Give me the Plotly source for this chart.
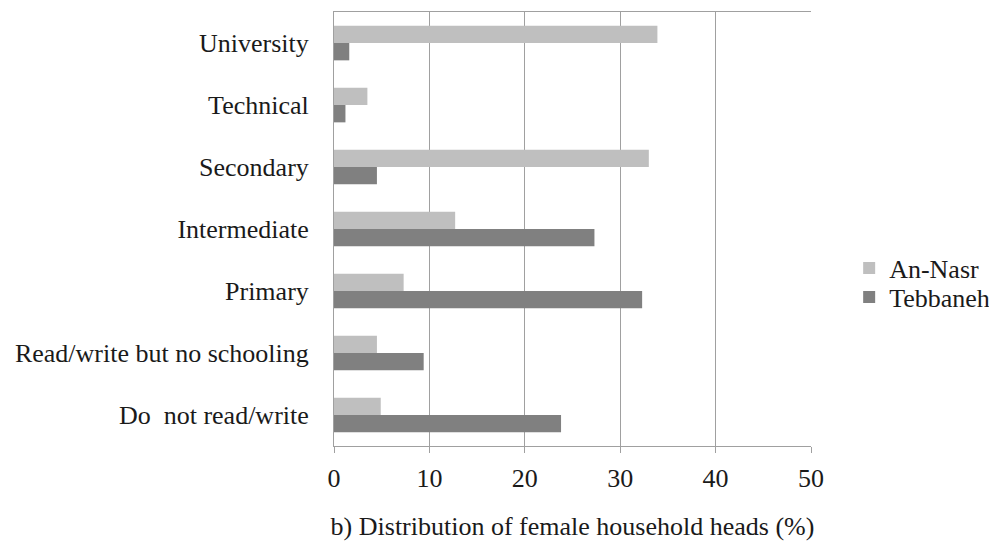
import plotly.graph_objects as go

categories = ["University", "Technical", "Secondary", "Intermediate", "Primary",
              "Read/write but no schooling", "Do\u00a0 not read/write"]
an_nasr = [33.9, 3.5, 33.0, 12.7, 7.3, 4.5, 4.9]
tebbaneh = [1.6, 1.2, 4.5, 27.3, 32.3, 9.4, 23.8]
x_ticks = [0, 10, 20, 30, 40, 50]

font = dict(family="Liberation Serif, Times New Roman, serif", size=26, color="#1a1a1a")

fig = go.Figure()
fig.add_trace(go.Bar(y=categories, x=an_nasr, name="An-Nasr", orientation="h",
                     legend="legend",
                     marker=dict(color="#BFBFBF", line=dict(width=0))))
fig.add_trace(go.Bar(y=categories, x=tebbaneh, name="Tebbaneh", orientation="h",
                     legend="legend2",
                     marker=dict(color="#808080", line=dict(width=0))))

leg_common = dict(xanchor="left", yanchor="middle", font=font, itemwidth=30,
                  bgcolor="rgba(0,0,0,0)")
fig.update_layout(
    width=997, height=544,
    margin=dict(l=326, r=194, t=4, b=106, autoexpand=False),
    paper_bgcolor="white", plot_bgcolor="white",
    barmode="group", bargap=0.44, bargroupgap=0,
    font=font,
    legend=dict(x=1.08, y=0.410, **leg_common),
    legend2=dict(x=1.08, y=0.343, **leg_common),
    showlegend=True,
)
fig.update_xaxes(range=[0, 50], tickvals=x_ticks, showgrid=True, gridcolor="#A0A0A0",
                 gridwidth=1, zeroline=False, showline=True, linecolor="#A0A0A0",
                 linewidth=1, mirror=True, ticks="outside", ticklen=6, tickcolor="#A0A0A0",
                 tickfont=font, ticklabelstandoff=3,
                 title=dict(text="b) Distribution of female household heads (%)",
                            font=font, standoff=24))
fig.update_yaxes(autorange="reversed", showgrid=False, showline=True, linecolor="#A0A0A0",
                 linewidth=1, ticks="", tickfont=font, ticklabelstandoff=19)

fig.write_html("out.html")
